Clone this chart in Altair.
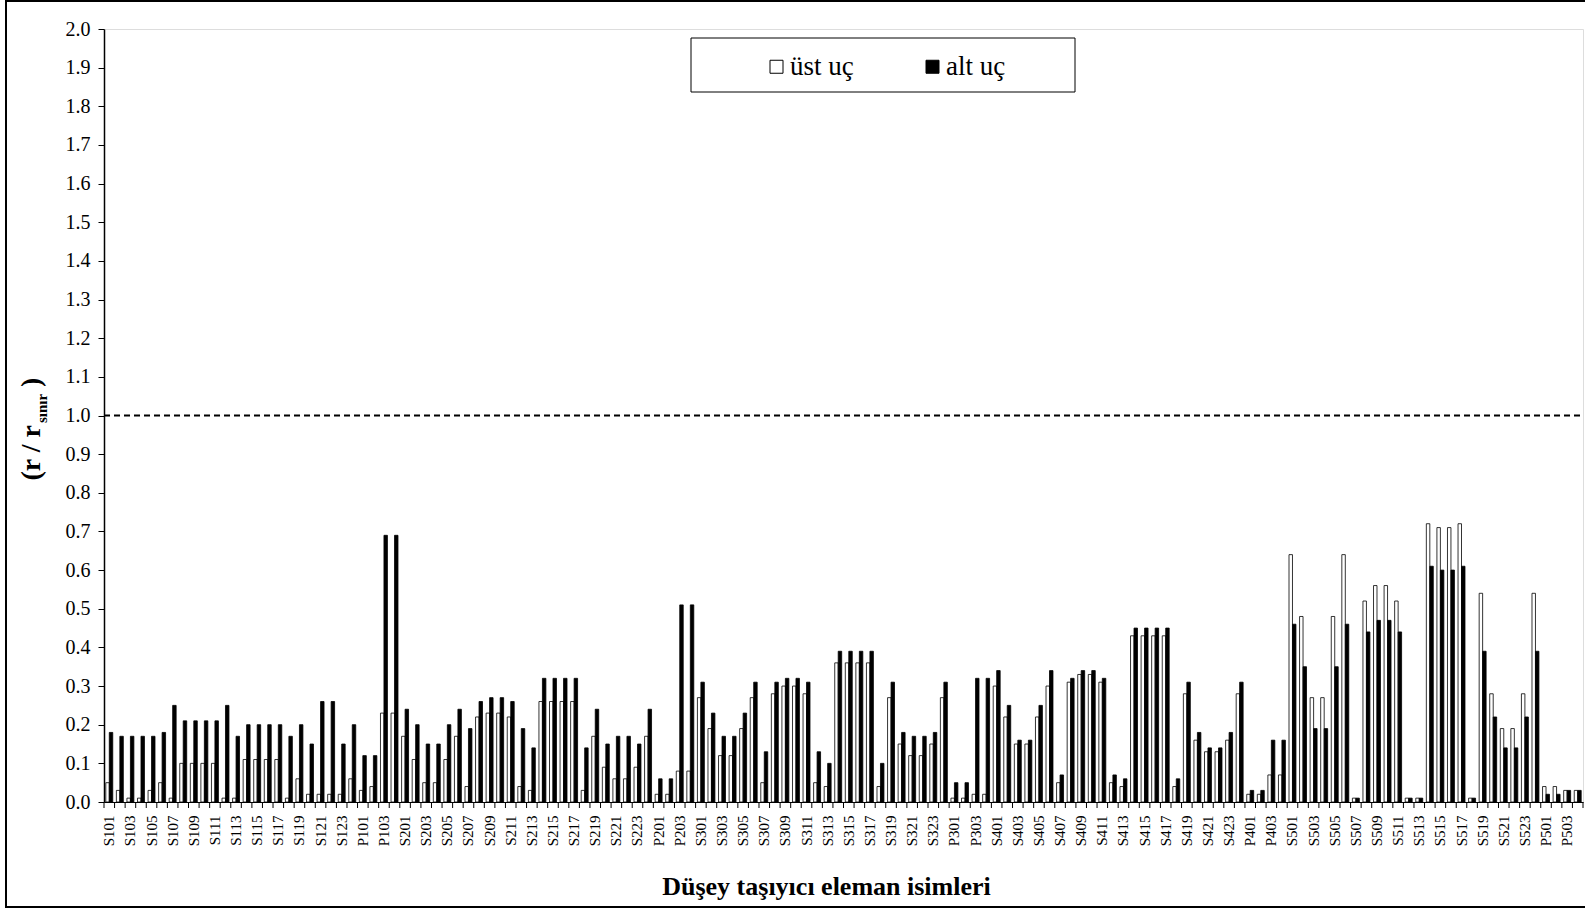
import altair as alt
import pandas as pd

# Element names: per storey 24 columns (S) and 4 shear walls (P)
storeys = [1, 2, 3, 4, 5]
categories = []
for f in storeys:
    categories += [f"S{f}{i:02d}" for i in range(1, 25)]
    categories += [f"P{f}{i:02d}" for i in range(1, 5)]

# r / r_sınır at the top end (üst uç) of each element
ust_uc = [
    # storey 1
    0.05, 0.03, 0.01, 0.01, 0.03, 0.05, 0.01, 0.10, 0.10, 0.10, 0.10, 0.01,
    0.01, 0.11, 0.11, 0.11, 0.11, 0.01, 0.06, 0.02, 0.02, 0.02, 0.02, 0.06,
    0.03, 0.04, 0.23, 0.23,
    # storey 2
    0.17, 0.11, 0.05, 0.05, 0.11, 0.17, 0.04, 0.22, 0.23, 0.23, 0.22, 0.04,
    0.03, 0.26, 0.26, 0.26, 0.26, 0.03, 0.17, 0.09, 0.06, 0.06, 0.09, 0.17,
    0.02, 0.02, 0.08, 0.08,
    # storey 3
    0.27, 0.19, 0.12, 0.12, 0.19, 0.27, 0.05, 0.28, 0.30, 0.30, 0.28, 0.05,
    0.04, 0.36, 0.36, 0.36, 0.36, 0.04, 0.27, 0.15, 0.12, 0.12, 0.15, 0.27,
    0.01, 0.01, 0.02, 0.02,
    # storey 4
    0.30, 0.22, 0.15, 0.15, 0.22, 0.30, 0.05, 0.31, 0.33, 0.33, 0.31, 0.05,
    0.04, 0.43, 0.43, 0.43, 0.43, 0.04, 0.28, 0.16, 0.13, 0.13, 0.16, 0.28,
    0.02, 0.02, 0.07, 0.07,
    # storey 5
    0.64, 0.48, 0.27, 0.27, 0.48, 0.64, 0.01, 0.52, 0.56, 0.56, 0.52, 0.01,
    0.01, 0.72, 0.71, 0.71, 0.72, 0.01, 0.54, 0.28, 0.19, 0.19, 0.28, 0.54,
    0.04, 0.04, 0.03, 0.03,
]

# r / r_sınır at the bottom end (alt uç) of each element
alt_uc = [
    # storey 1
    0.18, 0.17, 0.17, 0.17, 0.17, 0.18, 0.25, 0.21, 0.21, 0.21, 0.21, 0.25,
    0.17, 0.20, 0.20, 0.20, 0.20, 0.17, 0.20, 0.15, 0.26, 0.26, 0.15, 0.20,
    0.12, 0.12, 0.69, 0.69,
    # storey 2
    0.24, 0.20, 0.15, 0.15, 0.20, 0.24, 0.19, 0.26, 0.27, 0.27, 0.26, 0.19,
    0.14, 0.32, 0.32, 0.32, 0.32, 0.14, 0.24, 0.15, 0.17, 0.17, 0.15, 0.24,
    0.06, 0.06, 0.51, 0.51,
    # storey 3
    0.31, 0.23, 0.17, 0.17, 0.23, 0.31, 0.13, 0.31, 0.32, 0.32, 0.31, 0.13,
    0.10, 0.39, 0.39, 0.39, 0.39, 0.10, 0.31, 0.18, 0.17, 0.17, 0.18, 0.31,
    0.05, 0.05, 0.32, 0.32,
    # storey 4
    0.34, 0.25, 0.16, 0.16, 0.25, 0.34, 0.07, 0.32, 0.34, 0.34, 0.32, 0.07,
    0.06, 0.45, 0.45, 0.45, 0.45, 0.06, 0.31, 0.18, 0.14, 0.14, 0.18, 0.31,
    0.03, 0.03, 0.16, 0.16,
    # storey 5
    0.46, 0.35, 0.19, 0.19, 0.35, 0.46, 0.01, 0.44, 0.47, 0.47, 0.44, 0.01,
    0.01, 0.61, 0.60, 0.60, 0.61, 0.01, 0.39, 0.22, 0.14, 0.14, 0.22, 0.39,
    0.02, 0.02, 0.03, 0.03,
]

series_names = ["üst uç", "alt uç"]
series_fill = ["white", "black"]
limit_value = [1.0]
y_ticks = [round(i * 0.1, 1) for i in range(21)]

FONT = "Liberation Serif"
W, H = 1479, 773

rows = []
for c, u, a in zip(categories, ust_uc, alt_uc):
    rows.append({"cat": c, "series": series_names[0], "value": u})
    rows.append({"cat": c, "series": series_names[1], "value": a})
df = pd.DataFrame(rows)

x_scale = alt.Scale(domain=categories, paddingInner=0, paddingOuter=0)
y_scale = alt.Scale(domain=[0, 2], nice=False)

# shared axis definitions, used by every layer on the same scale
x_axis = alt.Axis(
    values=categories[::2],
    labelAngle=270,
    ticks=False,
    labelFont=FONT,
    labelFontSize=15,
    labelColor="black",
    labelPadding=13,
    labelOverlap=False,
    domainColor="black",
    domainWidth=1,
    title="Düşey taşıyıcı eleman isimleri",
    titleFont=FONT,
    titleFontSize=26,
    titleFontWeight="bold",
    titleColor="black",
    titleBaseline="alphabetic",
    titleAlign="center",
    titleX=722,
    titleY=92,
)
y_axis = alt.Axis(
    values=y_ticks,
    labelOverlap=False,
    format=".1f",
    grid=False,
    tickSize=6,
    tickColor="black",
    domainColor="black",
    domainWidth=1.5,
    labelFont=FONT,
    labelFontSize=20,
    labelColor="black",
    labelPadding=8,
    title=None,
)

bars = alt.Chart(df).mark_bar(stroke="black", strokeWidth=0.8).encode(
    x=alt.X("cat:N", scale=x_scale, axis=x_axis),
    xOffset=alt.XOffset(
        "series:N",
        sort=series_names,
        scale=alt.Scale(domain=series_names, paddingInner=0, paddingOuter=0.52),
    ),
    y=alt.Y("value:Q", scale=y_scale, axis=y_axis),
    color=alt.Color(
        "series:N",
        sort=series_names,
        scale=alt.Scale(domain=series_names, range=series_fill),
        legend=alt.Legend(
            orient="none",
            legendX=659,
            legendY=24,
            direction="horizontal",
            title=None,
            symbolType="square",
            symbolSize=169,
            symbolStrokeColor="black",
            symbolStrokeWidth=1,
            labelFont=FONT,
            labelFontSize=27,
            labelColor="black",
            labelOffset=0,
            columnPadding=65,
            padding=0,
        ),
    ),
)

# category tick marks between neighbouring elements
tick_df = pd.DataFrame({"cat": categories})
cat_ticks = alt.Chart(tick_df).mark_rule(color="black", strokeWidth=1).encode(
    x=alt.X("cat:N", scale=x_scale, bandPosition=0, axis=x_axis),
    y=alt.value(H),
    y2=alt.value(H + 6),
)
last_tick = alt.Chart(pd.DataFrame({"k": [0]})).mark_rule(color="black").encode(
    x=alt.value(W), y=alt.value(H), y2=alt.value(H + 6)
)

# dashed limit line at r / r_sınır = 1.0
limit = alt.Chart(pd.DataFrame({"value": limit_value})).mark_rule(
    color="black", strokeWidth=2, strokeDash=[6, 4]
).encode(y=alt.Y("value:Q", scale=y_scale, axis=y_axis), x=alt.value(0), x2=alt.value(W))

one = pd.DataFrame({"k": [0]})

# legend frame
legend_box = alt.Chart(one).mark_rect(
    filled=False, stroke="black", strokeWidth=1
).encode(x=alt.value(587), x2=alt.value(971), y=alt.value(9), y2=alt.value(63))

# outer chart frame
outer_box = alt.Chart(one).mark_rect(
    filled=False, stroke="black", strokeWidth=2
).encode(x=alt.value(-98), x2=alt.value(W + 4), y=alt.value(-28), y2=alt.value(H + 105))

# y-axis title (r / r_sınır) with subscript
t_main = alt.Chart(pd.DataFrame({"t": ["(r / r"]})).mark_text(
    angle=270, align="right", baseline="alphabetic",
    font=FONT, fontSize=28, fontWeight="bold", color="black",
).encode(text="t:N", x=alt.value(-64), y=alt.value(396))
t_sub = alt.Chart(pd.DataFrame({"t": ["sınır"]})).mark_text(
    angle=270, align="left", baseline="alphabetic",
    font=FONT, fontSize=15, fontWeight="bold", color="black",
).encode(text="t:N", x=alt.value(-57), y=alt.value(394))
t_close = alt.Chart(pd.DataFrame({"t": [")"]})).mark_text(
    angle=270, align="left", baseline="alphabetic",
    font=FONT, fontSize=28, fontWeight="bold", color="black",
).encode(text="t:N", x=alt.value(-64), y=alt.value(358))

chart = alt.layer(
    bars, cat_ticks, last_tick, limit, legend_box, outer_box, t_main, t_sub, t_close
).properties(
    width=W,
    height=H,
    autosize=alt.AutoSizeParams(type="none"),
    padding={"left": 104, "top": 29, "right": 2, "bottom": 107},
).configure_view(
    stroke="#404040", strokeWidth=1
).configure(background="white")

chart.save("out.html", embed_options={"renderer": "svg", "actions": False})
